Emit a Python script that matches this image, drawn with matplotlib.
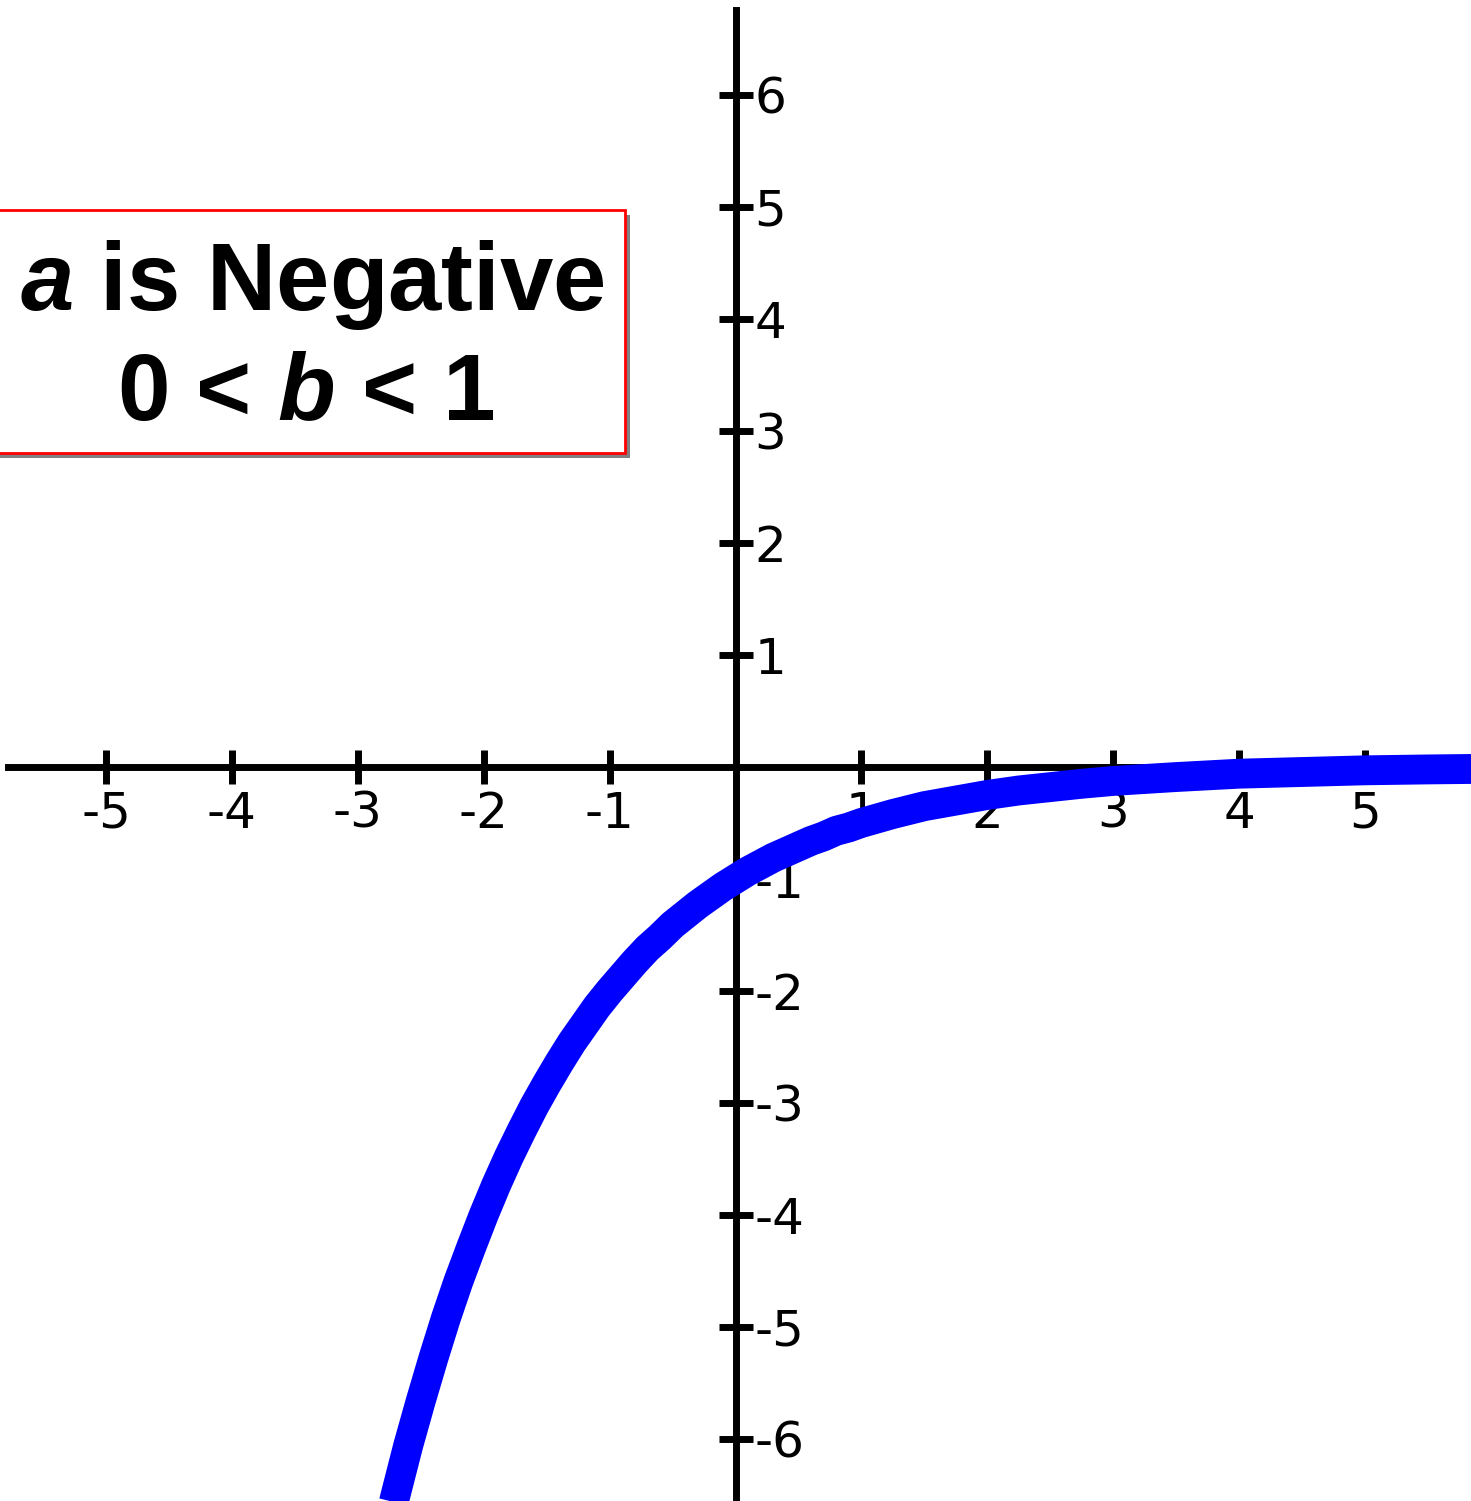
import numpy as np
import matplotlib
matplotlib.use("Agg")
import matplotlib.pyplot as plt
from matplotlib.patches import Rectangle

plt.rcParams['axes.unicode_minus'] = False
plt.rcParams['mathtext.fontset'] = 'custom'
plt.rcParams['mathtext.bfit'] = 'Liberation Sans:italic:bold'
plt.rcParams['mathtext.rm'] = 'Liberation Sans:bold'

# curve: y = a * b**x with a negative, 0 < b < 1
curve_x = [-2.8, -2.7, -2.6, -2.5, -2.4, -2.3, -2.2, -2.1, -2.0, -1.9, -1.8, -1.7,
           -1.6, -1.5, -1.4, -1.3, -1.2, -1.1, -1.0, -0.9, -0.8, -0.7, -0.6, -0.5,
           -0.4, -0.3, -0.2, -0.1, 0.0, 0.1, 0.2, 0.3, 0.4, 0.5, 0.6, 0.7, 0.8, 0.9,
           1.0, 1.25, 1.5, 1.75, 2.0, 2.25, 2.5, 2.75, 3.0, 3.5, 4.0, 4.5, 5.0, 5.5, 6.0]
curve_y = [-6.96, -6.50, -6.06, -5.66, -5.28, -4.92, -4.59, -4.29, -4.00, -3.73, -3.48,
           -3.25, -3.03, -2.83, -2.64, -2.46, -2.30, -2.14, -2.00, -1.87, -1.74, -1.62,
           -1.52, -1.41, -1.32, -1.23, -1.15, -1.07, -1.00, -0.93, -0.87, -0.81, -0.76,
           -0.71, -0.66, -0.62, -0.57, -0.54, -0.50, -0.42, -0.35, -0.30, -0.25, -0.21,
           -0.18, -0.15, -0.125, -0.09, -0.06, -0.045, -0.03, -0.022, -0.016]

x_ticks = [-5, -4, -3, -2, -1, 1, 2, 3, 4, 5]
y_ticks = [-6, -5, -4, -3, -2, -1, 1, 2, 3, 4, 5, 6]
x_lim = (-5.842, 5.842)
y_lim = (-6.554, 6.848)

fig = plt.figure(figsize=(14.71, 15.01), dpi=100)
ax = fig.add_axes([0, 0, 1, 1])
ax.set_xlim(*x_lim)
ax.set_ylim(*y_lim)

# axes through the origin
ax.spines['top'].set_visible(False)
ax.spines['left'].set_visible(False)
ax.spines['bottom'].set_position('zero')
ax.spines['right'].set_position('zero')
ax.spines['bottom'].set_linewidth(5)
ax.spines['right'].set_linewidth(5)
ax.spines['bottom'].set_bounds(-5.78, x_lim[1])
ax.spines['right'].set_bounds(y_lim[0], 6.76)
ax.yaxis.set_ticks_position('right')
ax.xaxis.set_ticks_position('bottom')

ax.set_xticks(x_ticks)
ax.set_yticks(y_ticks)
ax.set_xticklabels([str(v) for v in x_ticks])
ax.set_yticklabels([str(v) for v in y_ticks])
ax.tick_params(axis='both', direction='inout', length=25, width=5,
               labelsize=36, labelfontfamily='DejaVu Sans')
ax.tick_params(axis='x', pad=4)
ax.tick_params(axis='y', pad=1, labelleft=False, labelright=True)

ax.plot(curve_x, curve_y, color='#0000ff', lw=21.5, solid_capstyle='butt',
        solid_joinstyle='round', zorder=5, clip_on=True)

# label box with drop shadow
W, H = 1471, 1501
bx0, bx1, by0, by1 = -5, 625, 210, 453
fig.patches.append(Rectangle(((bx0 + 5) / W, 1 - (by1 + 5) / H), (bx1 - bx0) / W,
                             (by1 - by0) / H, transform=fig.transFigure,
                             facecolor='#808080', edgecolor='none', zorder=10))
fig.patches.append(Rectangle((bx0 / W, 1 - by1 / H), (bx1 - bx0) / W,
                             (by1 - by0) / H, transform=fig.transFigure,
                             facecolor='white', edgecolor='#ff0000', lw=2, zorder=11))
fig.text(312 / W, 1 - 310 / H, r'$\mathbfit{a}$ is Negative', ha='center', va='baseline',
         fontsize=69, fontweight='bold', family='Liberation Sans', zorder=12)
fig.text(306 / W, 1 - 420 / H, r'0 < $\mathbfit{b}$ < 1', ha='center', va='baseline',
         fontsize=68, fontweight='bold', family='Liberation Sans', zorder=12)

fig.savefig('out.png', dpi=100)
